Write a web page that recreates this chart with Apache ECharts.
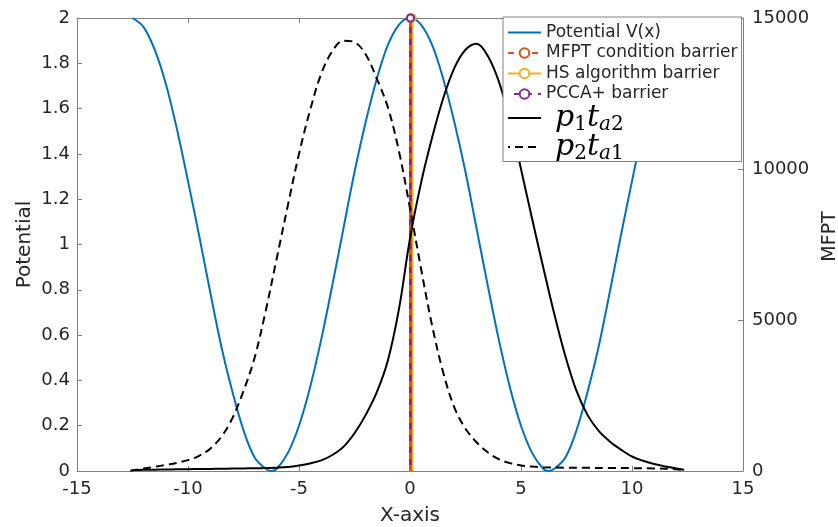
<!DOCTYPE html>
<html>
<head>
<meta charset="utf-8">
<script src="https://cdn.jsdelivr.net/npm/echarts@6/dist/echarts.min.js"></script>
<style>
html,body{margin:0;padding:0;background:#fff;}
#chart{width:838px;height:527px;}
</style>
</head>
<body>
<div id="chart"></div>
<script>
// ---- data ----
const potX = [-12.5,-12,-11.5,-11,-10.5,-10,-9.5,-9,-8.5,-8,-7.5,-7,-6.5,-6.25,-6,-5.5,-5,-4.5,-4,-3.5,-3,-2.5,-2,-1.5,-1,-0.5,0,0.5,1,1.5,2,2.5,3,3.5,4,4.5,5,5.5,6,6.25,6.5,7,7.5,8,8.5,9,9.5,10,10.5,11,11.5,12,12.5];
const potV = [2.00,1.96,1.86,1.71,1.51,1.28,1.04,0.79,0.55,0.35,0.18,0.06,0.01,0.00,0.01,0.08,0.20,0.37,0.58,0.82,1.07,1.32,1.54,1.73,1.88,1.97,2.00,1.97,1.88,1.73,1.54,1.32,1.07,0.82,0.58,0.37,0.20,0.08,0.01,0.00,0.01,0.06,0.18,0.35,0.55,0.79,1.04,1.28,1.51,1.71,1.86,1.96,2.00];

const p1X = [-12.5,-12,-11.5,-11,-10.5,-10,-9.5,-9,-8.5,-8,-7.5,-7,-6.5,-6,-5.5,-5,-4.5,-4,-3.5,-3,-2.5,-2,-1.5,-1,-0.5,0,0.5,1,1.5,2,2.5,3,3.5,4,4.5,5,5.5,6,6.5,7,7.5,8,8.5,9,9.5,10,10.5,11,11.5,12,12.35];
const p1T = [30,40,45,50,55,60,65,70,75,80,85,90,100,110,130,180,250,350,530,800,1250,1850,2600,3650,5350,7700,9550,11050,12350,13350,13950,14150,13750,12900,11600,10000,8350,6750,5200,3800,2650,1850,1330,980,710,480,340,230,150,85,40];

const p2X = [-12.6,-12,-11.5,-11,-10.5,-10,-9.5,-9,-8.5,-8,-7.5,-7,-6.5,-6,-5.5,-5,-4.5,-4,-3.5,-3,-2.5,-2,-1.5,-1,-0.5,0,0.5,1,1.5,2,2.5,3,3.5,4,4.5,5,5.5,6,7,8,9,10,11,12,12.3];
const p2T = [10,80,140,200,270,360,500,740,1130,1750,2650,3750,5300,7050,8800,10500,11950,13150,13900,14250,14200,13800,13000,12050,10600,8700,6690,4800,3250,2100,1400,950,620,390,260,185,145,125,110,105,100,95,85,60,30];

const mfptBarrierX = 0.02;
const hsBarrierX = 0.1;
const pccaBarrierX = 0.02;
const barrierRange = [0, 2];

const xTicks = {min: -15, max: 15, step: 5};
const yLeftTicks = {min: 0, max: 2, step: 0.2};
const yRightTicks = {min: 0, max: 15000, step: 5000};

const names = ['Potential V(x)', 'MFPT condition barrier', 'HS algorithm barrier', 'PCCA+ barrier', 'p1ta2', 'p2ta1'];

// ---- chart ----
const zip = (xs, ys) => xs.map((x, i) => [x, ys[i]]);
const axisColor = '#808080';
const textColor = '#262626';
const font = 'DejaVu Sans';

function barrier(x) {
  return [{value: [x, barrierRange[0]], symbol: 'none'}, {value: [x, barrierRange[1]], symbol: 'emptyCircle'}];
}

const noMarker = {opacity: 0};
const chart = echarts.init(document.getElementById('chart'), null, {renderer: 'canvas'});
chart.setOption({
  animation: false,
  backgroundColor: '#fff',
  grid: {left: 77, right: 95, top: 18, bottom: 56, containLabel: false, outerBoundsMode: 'none'},
  xAxis: [{
    type: 'value', min: xTicks.min, max: xTicks.max, interval: xTicks.step, position: 'bottom',
    axisLine: {show: true, onZero: false, lineStyle: {color: axisColor, width: 1}},
    axisTick: {show: true, inside: true, length: 5, lineStyle: {color: axisColor}},
    axisLabel: {fontSize: 18, fontFamily: font, color: textColor, margin: 9},
    splitLine: {show: false},
    name: 'X-axis', nameLocation: 'middle', nameGap: 35,
    nameTextStyle: {fontSize: 20, fontFamily: font, color: textColor}
  }, {
    type: 'value', min: xTicks.min, max: xTicks.max, interval: xTicks.step, position: 'top',
    axisLine: {show: true, onZero: false, lineStyle: {color: axisColor, width: 1}},
    axisTick: {show: true, inside: true, length: 5, lineStyle: {color: axisColor}},
    axisLabel: {show: false}, splitLine: {show: false}
  }],
  yAxis: [{
    type: 'value', min: yLeftTicks.min, max: yLeftTicks.max, interval: yLeftTicks.step, position: 'left',
    axisLine: {show: true, onZero: false, lineStyle: {color: axisColor, width: 1}},
    axisTick: {show: true, inside: true, length: 5, lineStyle: {color: axisColor}},
    axisLabel: {fontSize: 18, fontFamily: font, color: textColor, margin: 7},
    splitLine: {show: false},
    name: 'Potential', nameLocation: 'middle', nameGap: 42, nameRotate: 90, nameMoveOverlap: false,
    nameTextStyle: {fontSize: 20, fontFamily: font, color: textColor}
  }, {
    type: 'value', min: yRightTicks.min, max: yRightTicks.max, interval: yRightTicks.step, position: 'right',
    axisLine: {show: true, onZero: false, lineStyle: {color: axisColor, width: 1}},
    axisTick: {show: true, inside: true, length: 5, lineStyle: {color: axisColor}},
    axisLabel: {fontSize: 18, fontFamily: font, color: textColor, margin: 9, formatter: v => String(v)},
    splitLine: {show: false},
    name: 'MFPT', nameLocation: 'middle', nameGap: 78, nameRotate: 90,
    nameTextStyle: {fontSize: 19, fontFamily: font, color: textColor, padding: [0, 0, 0, 16]}
  }],
  legend: [{
    orient: 'vertical', left: 503, top: 17,
    padding: [7, 4, 59, 4], itemGap: 3.5, itemWidth: 33, itemHeight: 12,
    backgroundColor: '#fff', borderColor: axisColor, borderWidth: 1,
    data: [
      {name: names[0], itemStyle: noMarker},
      {name: names[1]},
      {name: names[2]},
      {name: names[3]}
    ],
    textStyle: {fontSize: 17, fontFamily: font, color: textColor, lineHeight: 17}
  }, {
    orient: 'vertical', left: 503, top: 101,
    padding: [0, 4, 0, 4], itemGap: -5, itemWidth: 33, itemHeight: 12,
    data: [
      {name: names[4], itemStyle: noMarker},
      {name: names[5], itemStyle: noMarker}
    ],
    textStyle: {
      fontSize: 17, fontFamily: font, color: textColor,
      rich: {
        mp: {fontFamily: 'DejaVu Serif', fontStyle: 'italic', fontSize: 30, lineHeight: 24, color: '#000', padding: [0, 0, 0, 9]},
        m: {fontFamily: 'DejaVu Serif', fontStyle: 'italic', fontSize: 30, lineHeight: 24, color: '#000'},
        s: {fontFamily: 'DejaVu Serif', fontStyle: 'italic', fontSize: 20, lineHeight: 10, color: '#000', padding: [14, 0, 0, 0]},
        n: {fontFamily: 'DejaVu Serif', fontSize: 20, lineHeight: 10, color: '#000', padding: [14, 0, 0, 0]}
      }
    },
    formatter: function (name) {
      if (name === 'p1ta2') return '{mp|p}{n|1}{m|t}{s|a}{n|2}';
      if (name === 'p2ta1') return '{mp|p}{n|2}{m|t}{s|a}{n|1}';
      return name;
    }
  }],
  series: [{
    name: names[0], type: 'line', xAxisIndex: 0, yAxisIndex: 0, data: zip(potX, potV),
    smooth: 0.35, symbol: 'none', lineStyle: {color: '#0072BD', width: 2}, itemStyle: {color: '#0072BD'}
  }, {
    name: names[2], type: 'line', xAxisIndex: 0, yAxisIndex: 0, data: barrier(hsBarrierX),
    symbol: 'emptyCircle', symbolSize: 7, showSymbol: true, clip: false,
    lineStyle: {color: '#EDB120', width: 2.5}, itemStyle: {color: '#EDB120', borderWidth: 2}
  }, {
    name: names[1], type: 'line', xAxisIndex: 0, yAxisIndex: 0, data: barrier(mfptBarrierX),
    symbol: 'emptyCircle', symbolSize: 7, showSymbol: true, clip: false,
    lineStyle: {color: '#D95319', width: 3, type: [6, 6]}, itemStyle: {color: '#D95319', borderWidth: 2}
  }, {
    name: names[3], type: 'line', xAxisIndex: 0, yAxisIndex: 0, data: barrier(pccaBarrierX),
    symbol: 'emptyCircle', symbolSize: 7, showSymbol: true, clip: false,
    lineStyle: {color: '#7E2F8E', width: 3, type: [6, 6], dashOffset: 6}, itemStyle: {color: '#7E2F8E', borderWidth: 2}
  }, {
    name: names[4], type: 'line', xAxisIndex: 0, yAxisIndex: 1, data: zip(p1X, p1T),
    smooth: 0.35, symbol: 'none', lineStyle: {color: '#000', width: 2}, itemStyle: {color: '#000'}
  }, {
    name: names[5], type: 'line', xAxisIndex: 0, yAxisIndex: 1, data: zip(p2X, p2T),
    smooth: 0.35, symbol: 'none', lineStyle: {color: '#000', width: 2, type: [8, 5]}, itemStyle: {color: '#000'}
  }]
});
</script>
</body>
</html>
